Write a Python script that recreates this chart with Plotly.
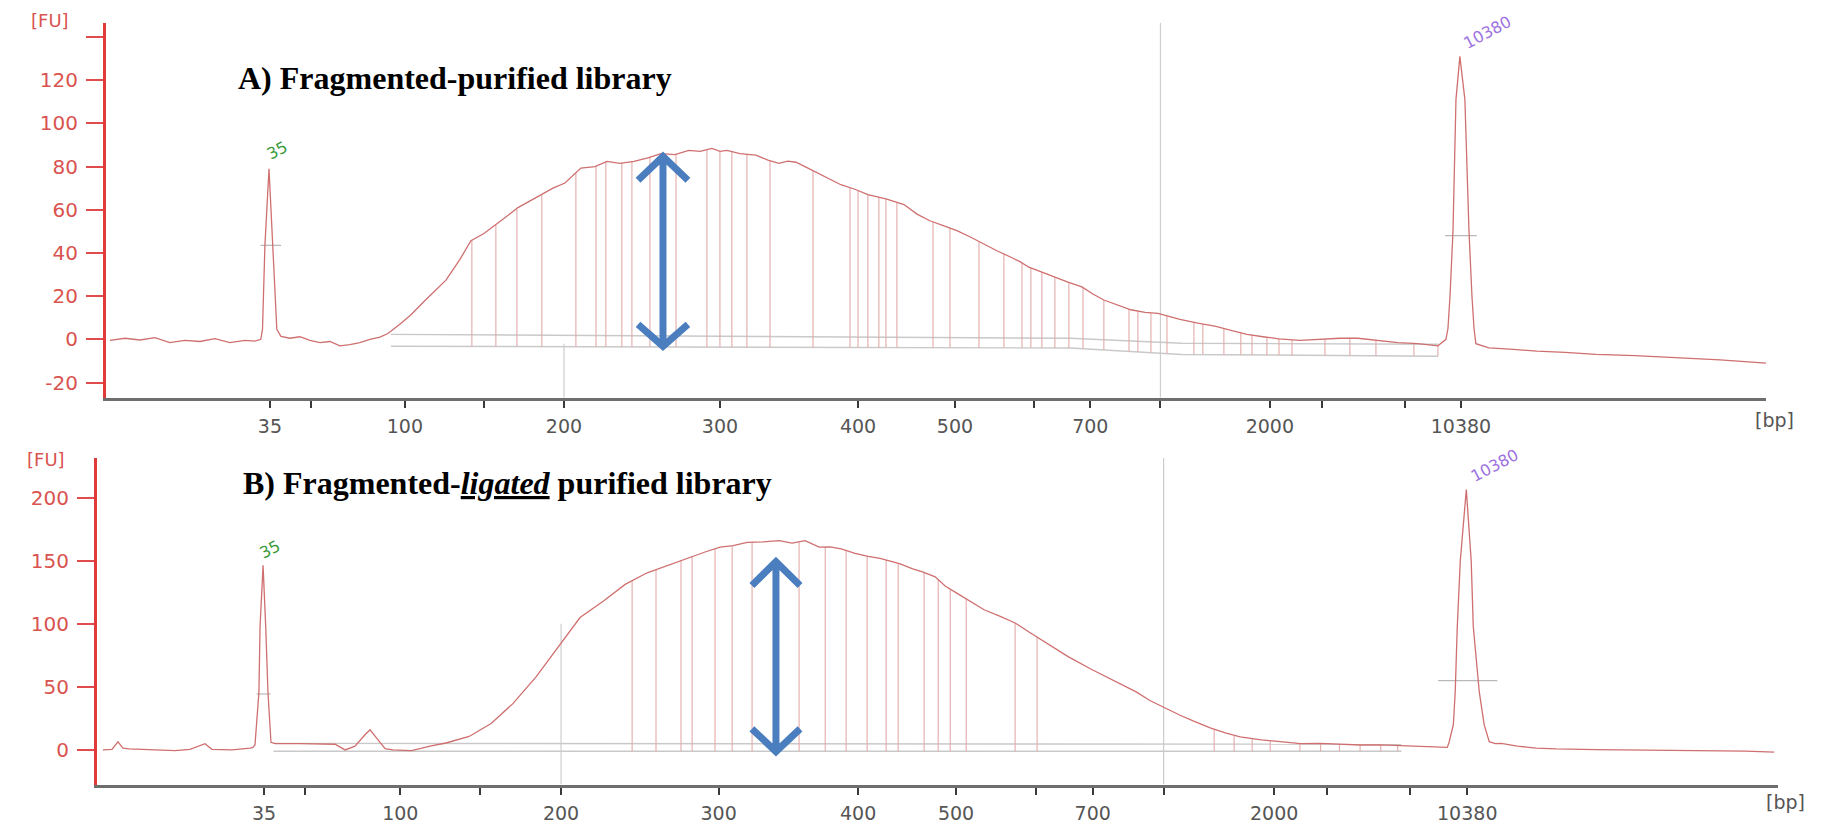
import numpy as np
import plotly.graph_objects as go

# ---------------- x axis: migration time (s) with bp labels ----------------
tick_time = [43.0, 45.2, 50.25, 54.5, 58.8, 67.18, 74.6, 79.81, 84.05, 87.08, 90.85, 96.73, 99.54, 103.98, 107.0]
tick_text = ['35', '', '100', '', '200', '300', '400', '500', '', '700', '', '2000', '', '', '10380']

# ---------------- Panel A: fragmented-purified library ----------------
a_time = [34.40, 35.21, 36.01, 36.82, 37.62, 38.43, 39.24, 40.04, 40.85, 41.66,
          42.19, 42.51, 42.60, 42.73, 42.95, 43.16, 43.37, 43.59, 44.07, 44.61,
          45.15, 45.69, 46.22, 46.76, 47.30, 47.83, 48.37, 48.91, 49.34, 49.98,
          50.58, 51.33, 52.46, 53.21, 53.80, 54.50, 55.14, 55.73, 56.33, 56.97,
          57.61, 58.21, 58.85, 59.39, 59.71, 60.46, 61.11, 61.81, 62.56, 63.31,
          64.01, 64.76, 65.51, 66.11, 66.75, 67.18, 67.56, 68.25, 69.11, 69.76,
          70.35, 70.83, 71.26, 71.75, 72.23, 72.98, 73.68, 74.43, 75.13, 76.10,
          77.07, 77.77, 78.46, 79.22, 79.91, 80.61, 81.37, 82.06, 82.82, 83.30,
          83.78, 84.48, 85.18, 85.88, 86.63, 87.22, 87.81, 88.57, 89.26, 90.02,
          90.72, 91.36, 91.90, 92.86, 93.83, 94.69, 95.50, 96.36, 97.22, 98.35,
          99.37, 100.50, 101.46, 102.54, 103.61, 104.69, 105.76, 106.19, 106.30, 106.41,
          106.57, 106.73, 106.94, 107.21, 107.43, 107.59, 107.70, 107.80, 108.50, 109.63,
          111.08, 112.59, 114.25, 116.35, 118.50, 120.92, 123.39]
a_fu = [-0.5, 0.5, -0.3, 0.8, -1.5, -0.5, -1.0, 0.3, -1.5, -0.5,
        -0.8, 0.0, 4.6, 43.5, 79.0, 43.5, 4.6, 1.4, 0.5, 1.2,
        -0.5, -1.5, -1.0, -3.0, -2.5, -1.5, 0.0, 1.0, 2.7, 7.0,
        11.4, 18.0, 27.4, 37.0, 45.7, 49.0, 53.0, 57.0, 61.0, 64.0,
        67.0, 70.0, 72.4, 77.0, 79.3, 80.0, 82.4, 81.5, 82.4, 84.0,
        86.0, 85.5, 87.5, 87.0, 88.4, 87.0, 87.5, 86.0, 85.3, 83.0,
        81.5, 82.5, 82.0, 80.0, 77.9, 74.5, 71.6, 69.5, 67.0, 65.0,
        62.4, 58.0, 54.9, 52.5, 50.3, 47.5, 44.0, 41.0, 38.0, 36.0,
        33.4, 31.0, 28.9, 26.5, 24.3, 21.0, 18.2, 16.0, 13.7, 12.5,
        12.0, 10.5, 9.2, 7.5, 6.0, 4.0, 2.3, 1.2, 0.2, -0.5,
        0.0, 0.5, 0.5, -0.5, -1.5, -2.0, -3.0, 0.0, 5.0, 20.0,
        50.0, 111.0, 131.0, 111.0, 50.0, 20.0, 5.0, -2.0, -4.0, -4.5,
        -5.5, -6.0, -7.0, -7.5, -8.5, -9.5, -11.0]
a_regions = [53.85, 55.14, 56.27, 57.61, 59.44, 60.52, 61.05, 61.91, 62.45, 63.42,
             64.82, 66.48, 67.18, 67.82, 68.63, 69.87, 72.18, 74.17, 74.60, 75.13,
             75.72, 76.10, 76.69, 78.63, 79.54, 81.10, 82.44, 83.41, 83.89, 84.48,
             85.18, 85.93, 86.69, 87.81, 89.16, 89.64, 90.34, 91.20, 92.65, 93.13,
             94.26, 95.17, 95.77, 96.57, 97.22, 97.92, 99.69, 101.03, 102.43, 104.47, 105.76]
a_box_time = [49.5, 86.0, 92.0, 105.76]
a_box_upper = [2.3, 0.5, -1.8, -2.3]
a_box_lower = [-3.2, -4.0, -7.0, -7.8]
a_halfbars = [(42.5, 43.6, 43.5), (106.15, 107.85, 48.0)]
a_peak_labels = [('35', 43.37, 87.5, '#3a9a3a'), ('10380', 108.4, 142.0, '#9d72e0')]
a_arrow = dict(x=64.12, hw=1.34, top=84.7, top_base=73.7, bot=-3.2, bot_base=6.9)

# ---------------- Panel B: fragmented-ligated purified library ----------------
b_time = [34.43, 34.91, 35.23, 35.50, 35.82, 36.94, 38.27, 39.06, 39.86, 40.23,
          41.30, 42.26, 42.41, 42.52, 42.73, 42.79, 42.95, 43.09, 43.21, 43.37,
          43.59, 44.92, 46.78, 47.31, 47.84, 48.37, 48.64, 48.96, 49.44, 49.86,
          50.34, 50.82, 51.30, 51.83, 52.68, 53.91, 55.08, 56.25, 57.47, 58.64,
          59.81, 61.04, 62.21, 63.38, 64.60, 65.61, 66.46, 67.26, 67.95, 68.70,
          69.55, 70.40, 71.09, 71.78, 72.53, 73.11, 73.70, 74.44, 75.13, 75.77,
          76.30, 76.84, 77.47, 78.06, 78.70, 79.23, 79.87, 80.56, 81.30, 82.16,
          82.95, 83.75, 84.60, 85.77, 87.00, 88.17, 89.39, 90.14, 90.93, 91.73,
          92.48, 93.33, 94.13, 94.92, 96.04, 97.00, 98.12, 99.18, 100.24, 101.31,
          102.37, 103.33, 104.50, 105.56, 105.94, 106.04, 106.26, 106.36, 106.47, 106.63,
          106.95, 107.21, 107.32, 107.64, 107.90, 108.17, 108.49, 108.81, 109.66, 110.67,
          111.73, 113.86, 115.99, 118.07, 120.19, 121.79, 123.33]
b_fu = [0.0, 0.5, 6.5, 1.5, 0.8, 0.0, -0.5, 0.5, 5.0, 0.5,
        0.0, 1.5, 2.0, 4.0, 46.0, 98.0, 146.4, 98.0, 46.0, 6.0,
        5.0, 5.0, 4.5, 0.0, 3.0, 12.0, 16.0, 10.0, 1.0, 0.0,
        -0.5, -0.5, 1.0, 3.0, 5.5, 10.7, 21.0, 36.9, 58.0, 81.5,
        105.0, 118.0, 131.3, 140.5, 147.0, 153.0, 157.0, 160.8, 162.0, 164.7,
        165.0, 166.0, 164.0, 166.0, 160.8, 161.0, 159.5, 156.0, 153.6, 152.0,
        149.7, 147.5, 143.8, 141.0, 137.3, 130.0, 124.2, 118.0, 111.2, 106.0,
        100.7, 93.0, 85.0, 74.0, 64.0, 55.0, 46.0, 39.0, 33.0, 27.5,
        22.6, 17.5, 13.5, 10.4, 8.0, 6.5, 5.0, 5.2, 4.5, 3.9,
        4.0, 3.4, 2.5, 1.8, 2.0, 6.5, 20.0, 46.0, 98.0, 150.0,
        206.5, 150.0, 98.0, 46.0, 20.0, 6.5, 5.0, 5.2, 3.0, 1.5,
        0.8, 0.3, 0.0, -0.3, -0.5, -1.0, -1.8]
b_regions = [62.58, 63.85, 65.18, 65.77, 66.99, 67.90, 68.96, 71.46, 72.85, 73.96,
             75.08, 76.09, 76.73, 78.11, 78.86, 79.50, 80.35, 82.95, 84.12, 93.54,
             94.60, 95.56, 96.52, 98.1, 99.2, 100.2, 101.3, 102.4, 103.3]
b_box_time = [43.5, 103.5]
b_box_upper = [5.2, 4.5]
b_box_lower = [-1.0, -1.0]
b_halfbars = [(42.6, 43.35, 44.4), (105.45, 108.6, 55.0)]
b_peak_labels = [('35', 43.32, 158.7, '#3a9a3a'), ('10380', 108.45, 226.0, '#9d72e0')]
b_arrow = dict(x=70.23, hw=1.28, top=149.3, top_base=130.4, bot=-1.3, bot_base=16.7)

TICK_FONT = 'DejaVu Sans'
fig = go.Figure()


def add_panel(t, fu, regions, box_t, box_up, box_lo, halfbars, grid_specs, xa, ya):
    common = dict(xaxis=xa, yaxis=ya, hoverinfo='skip', showlegend=False)
    # light grey grid markers
    gx, gy = [], []
    for gt, g0, g1 in grid_specs:
        gx += [gt, gt, None]
        gy += [g0, g1, None]
    fig.add_trace(go.Scatter(x=gx, y=gy, mode='lines',
                             line=dict(color='#cdcdcd', width=1.2), **common))
    # region boxes (horizontal double line)
    fig.add_trace(go.Scatter(x=box_t, y=box_up, mode='lines',
                             line=dict(color='#c9c9c9', width=1.4), **common))
    fig.add_trace(go.Scatter(x=box_t, y=box_lo, mode='lines',
                             line=dict(color='#c9c9c9', width=1.4), **common))
    # region vertical lines (from box bottom up to the trace)
    tops = np.interp(regions, t, fu)
    bots = np.interp(regions, box_t, box_lo)
    vx, vy = [], []
    for x, b, tp in zip(regions, bots, tops):
        vx += [x, x, None]
        vy += [b, tp, None]
    fig.add_trace(go.Scatter(x=vx, y=vy, mode='lines',
                             line=dict(color='#e3aaaa', width=1.1), **common))
    # half-height bars of the markers
    hx, hy = [], []
    for x0, x1, h in halfbars:
        hx += [x0, x1, None]
        hy += [h, h, None]
    fig.add_trace(go.Scatter(x=hx, y=hy, mode='lines',
                             line=dict(color='#b9b9b9', width=1.2), **common))
    # electropherogram trace
    fig.add_trace(go.Scatter(x=t, y=fu, mode='lines',
                             line=dict(color='#cf6f6f', width=1.3), **common))


add_panel(a_time, a_fu, a_regions, a_box_time, a_box_upper, a_box_lower, a_halfbars,
          [(90.85, -27, 146.6), (58.8, -27, -2)], 'x', 'y')
add_panel(b_time, b_fu, b_regions, b_box_time, b_box_upper, b_box_lower, b_halfbars,
          [(90.85, -27.5, 231.6), (58.8, -27.5, 100)], 'x2', 'y2')


def xaxis(domain, rng, anchor):
    return dict(domain=domain, range=rng, anchor=anchor, tickmode='array',
                tickvals=tick_time, ticktext=tick_text, ticks='outside', ticklen=7,
                tickwidth=2, tickcolor='#3a3a3a', showline=True, linecolor='#6e6e6e',
                linewidth=3, showgrid=False, zeroline=False, ticklabelstandoff=3,
                tickfont=dict(family=TICK_FONT, size=19, color='#555555'))


def yaxis(domain, rng, anchor, vals, texts):
    return dict(domain=domain, range=rng, anchor=anchor, tickmode='array',
                tickvals=vals, ticktext=texts, ticks='outside', ticklen=17,
                tickwidth=2, tickcolor='#e24b4b', showline=True, linecolor='#e03a3a',
                linewidth=3, showgrid=False, zeroline=False, ticklabelstandoff=4,
                tickfont=dict(family=TICK_FONT, size=20, color='#d9534f'))


a_yticks = [-20, 0, 20, 40, 60, 80, 100, 120, 140]
a_ytext = ['-20', '0', '20', '40', '60', '80', '100', '120', '']
b_yticks = [0, 50, 100, 150, 200]
b_ytext = ['0', '50', '100', '150', '200']

fig.update_layout(
    width=1821, height=824, autosize=False,
    margin=dict(l=0, r=0, t=0, b=0),
    paper_bgcolor='white', plot_bgcolor='white',
    xaxis=xaxis([0.0582, 0.9698], [34.19, 123.39], 'y'),
    yaxis=yaxis([0.5121, 0.9721], [-27.0, 146.6], 'x', a_yticks, a_ytext),
    xaxis2=xaxis([0.0533, 0.9764], [34.12, 123.53], 'y2'),
    yaxis2=yaxis([0.0373, 0.4381], [-27.5, 231.6], 'x2', b_yticks, b_ytext),
)

ann = []
# panel titles
ann.append(dict(text='<b>A) Fragmented-purified library</b>', xref='paper', yref='paper',
                x=0.1296, y=0.9041, xanchor='left', yanchor='middle', showarrow=False,
                font=dict(family='Liberation Serif', size=32, color='black')))
ann.append(dict(text='<b>B) Fragmented-<i><u>ligated</u></i> purified library</b>', xref='paper',
                yref='paper', x=0.1323, y=0.4078, xanchor='left', yanchor='middle',
                showarrow=False, font=dict(family='Liberation Serif', size=32, color='black')))
# unit labels
for x, y in [(0.0275, 0.9745), (0.0250, 0.4357)]:
    ann.append(dict(text='[FU]', xref='paper', yref='paper', x=x, y=y, showarrow=False,
                    xanchor='center', yanchor='middle',
                    font=dict(family=TICK_FONT, size=18, color='#d9534f')))
for x, y, ya in [(0.9745, 0.4842, 'middle'), (0.9805, 0.0, 'bottom')]:
    ann.append(dict(text='[bp]', xref='paper', yref='paper', x=x, y=y, showarrow=False,
                    xanchor='center', yanchor=ya,
                    font=dict(family=TICK_FONT, size=19, color='#555555')))
# peak labels
for labels, xr, yr in [(a_peak_labels, 'x', 'y'), (b_peak_labels, 'x2', 'y2')]:
    for txt, x, y, col in labels:
        ann.append(dict(text=txt, xref=xr, yref=yr, x=x, y=y, showarrow=False, textangle=-28,
                        xanchor='center', yanchor='middle',
                        font=dict(family=TICK_FONT, size=16, color=col)))
fig.update_layout(annotations=ann)

# blue double-headed arrows
shapes = []
for arr, xr, yr in [(a_arrow, 'x', 'y'), (b_arrow, 'x2', 'y2')]:
    x, hw = arr['x'], arr['hw']
    path = (f"M {x - hw},{arr['top_base']} L {x},{arr['top']} L {x + hw},{arr['top_base']} "
            f"M {x},{arr['top']} L {x},{arr['bot']} "
            f"M {x - hw},{arr['bot_base']} L {x},{arr['bot']} L {x + hw},{arr['bot_base']}")
    shapes.append(dict(type='path', path=path, xref=xr, yref=yr,
                       line=dict(color='#4a7ebf', width=7)))
fig.update_layout(shapes=shapes)

fig.write_html('out.html')
